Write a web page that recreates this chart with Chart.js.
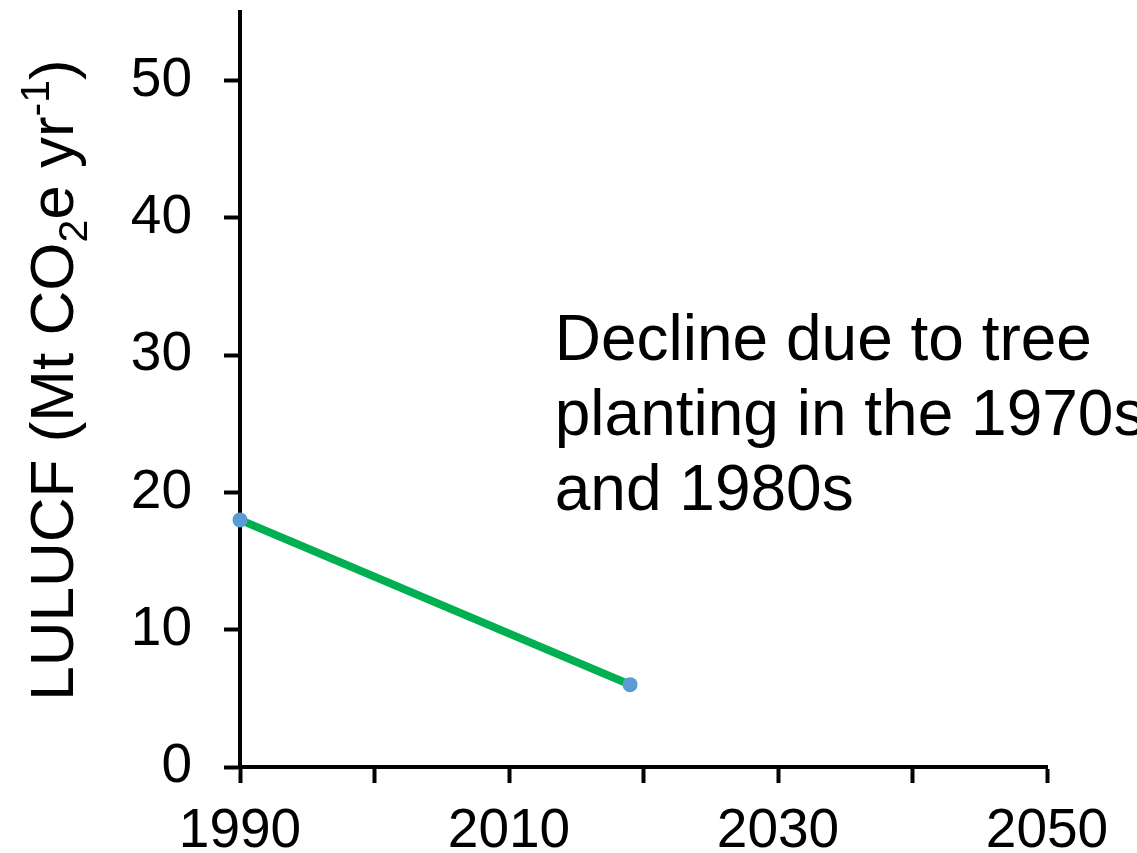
<!DOCTYPE html>
<html>
<head>
<meta charset="utf-8">
<script src="https://cdn.jsdelivr.net/npm/chart.js@4"></script>
<style>
  body { margin: 0; background: #fff; }
  #wrap { width: 1137px; height: 853px; }
</style>
</head>
<body>
<div id="wrap"><canvas id="lulucfGraph" width="1137" height="853"></canvas></div>
<script>
// data
var years = [1990, 2019];
var lulucf = [18, 6];
var xLabelYears = [1990, 2010, 2030, 2050];
var yTicks = [0, 10, 20, 30, 40, 50];
var noteLines = ['Decline due to tree', 'planting in the 1970s', 'and 1980s'];
var noteAt = [2013.4, 30.9]; // year, value where the note starts

var FONT = '"Liberation Sans", Arial, sans-serif';

// y title with sub/superscript, drawn by hand
const yTitle = {
    id: 'yTitle',
    afterDraw(chart) {
        const ctx = chart.ctx;
        const area = chart.chartArea;
        const parts = [
            { t: 'LULUCF (Mt CO', s: 62, dy: 0 },
            { t: '2', s: 41, dy: 14 },
            { t: 'e yr', s: 62, dy: 0 },
            { t: '-1', s: 41, dy: -24 },
            { t: ')', s: 62, dy: 0 }
        ];
        ctx.save();
        let total = 0;
        parts.forEach(p => {
            ctx.font = p.s + 'px ' + FONT;
            p.w = ctx.measureText(p.t).width;
            total += p.w;
        });
        ctx.translate(area.left - 167, 380);
        ctx.rotate(-Math.PI / 2);
        ctx.fillStyle = '#000';
        ctx.textBaseline = 'alphabetic';
        let x = -total / 2;
        parts.forEach(p => {
            ctx.font = p.s + 'px ' + FONT;
            ctx.fillText(p.t, x, p.dy);
            x += p.w;
        });
        ctx.restore();
    }
};

// the text note, anchored on the scales
const note = {
    id: 'note',
    afterDraw(chart) {
        const ctx = chart.ctx;
        const px = chart.scales.x.getPixelForValue(noteAt[0]);
        const py = chart.scales.y.getPixelForValue(noteAt[1]);
        ctx.save();
        ctx.font = '64px ' + FONT;
        ctx.fillStyle = '#000';
        ctx.textBaseline = 'middle';
        ctx.textAlign = 'left';
        for (var i = 0; i < noteLines.length; i++) {
            ctx.fillText(noteLines[i], px, py + i * 75);
        }
        ctx.restore();
    }
};

const ctx1 = document.getElementById('lulucfGraph').getContext('2d');
const lulucfGraph = new Chart(ctx1, {
    type: 'line',
    data: {
        datasets: [{
            data: years.map((y, i) => ({ x: y, y: lulucf[i] })),
            borderColor: '#00B050',
            borderWidth: 8,
            pointBackgroundColor: '#5B9BD5',
            pointBorderColor: '#5B9BD5',
            pointRadius: 7.5,
            pointBorderWidth: 0,
            tension: 0,
            clip: false
        }]
    },
    options: {
        responsive: false,
        animation: false,
        devicePixelRatio: 1,
        layout: { padding: { top: 12, right: 90, left: 0, bottom: 0 } },
        plugins: {
            legend: { display: false },
            tooltip: { enabled: false }
        },
        scales: {
            x: {
                type: 'linear',
                min: 1990,
                max: 2050,
                ticks: {
                    stepSize: 10,
                    color: '#000',
                    font: { family: FONT, size: 55 },
                    padding: 16,
                    maxRotation: 0,
                    autoSkip: false,
                    callback: v => xLabelYears.includes(v) ? String(v) : ''
                },
                grid: {
                    drawOnChartArea: false,
                    drawTicks: true,
                    tickLength: 16,
                    tickWidth: 4,
                    tickColor: '#000'
                },
                border: { color: '#000', width: 4 },
                afterFit(s) {
                    s.height = 86;
                    s.paddingLeft = 0;
                    s.paddingRight = 0;
                }
            },
            y: {
                min: 0,
                max: 55,
                afterBuildTicks(axis) {
                    axis.ticks = yTicks.map(v => ({ value: v }));
                },
                ticks: {
                    color: '#000',
                    font: { family: FONT, size: 55 },
                    padding: 32
                },
                grid: {
                    drawOnChartArea: false,
                    drawTicks: true,
                    tickLength: 16,
                    tickWidth: 4,
                    tickColor: '#000'
                },
                border: { color: '#000', width: 4 },
                afterFit(s) {
                    s.width = 240;
                    s.paddingTop = 0;
                    s.paddingBottom = 0;
                }
            }
        }
    },
    plugins: [yTitle, note]
});
</script>
</body>
</html>
